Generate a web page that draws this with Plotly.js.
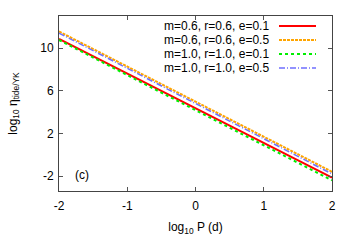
<!DOCTYPE html>
<html><head><meta charset="utf-8">
<script src="https://cdn.plot.ly/plotly-3.0.1.min.js"></script>
<style>html,body{margin:0;padding:0;background:#fff}#c{width:357px;height:250px}</style>
</head><body><div id="c"></div>
<script>
const logP = [-2, 2];
const labels = ["m=0.6, r=0.6, e=0.1","m=0.6, r=0.6, e=0.5","m=1.0, r=1.0, e=0.1","m=1.0, r=1.0, e=0.5"];
const eta_a = [10.85, -2.15];
const eta_b = [11.55, -1.6];
const eta_c = [10.75, -2.4];
const eta_d = [11.4, -1.8];
const xTicks = [-2, -1, 0, 1, 2];
const yTicks = [-2, 2, 6, 10];

const series = [eta_a, eta_b, eta_c, eta_d];
const styles = [
  {color:'#ff0000', dash:'solid', width:2},
  {color:'#ffa500', dash:'3px,1px', width:2},
  {color:'#00ee00', dash:'dot', width:2},
  {color:'#6f6fff', dash:'6px,2px,1px,2px', width:1.5}
];
const traces = series.map((s,i)=>({x:logP, y:s, mode:'lines', name:labels[i], line:styles[i], showlegend:false}));

const font = {family:'Liberation Sans, Arial, sans-serif', size:12, color:'#000'};
const ann = [{xref:'paper', yref:'paper', x:0.05, y:0.09, text:'(c)', showarrow:false, xanchor:'left', yanchor:'middle', font:font}];
const shapes = [];
const rowsY = [26, 40, 54, 68];
const figH = 250, mTop = 16, mBot = 59, ph = figH - mTop - mBot;
labels.forEach((l,i)=>{
  const yp = 1 - (rowsY[i]-mTop)/ph;
  ann.push({xref:'paper', yref:'paper', x:(271-59)/273, y:yp, text:l, showarrow:false, xanchor:'right', yanchor:'middle', font:font});
  shapes.push({type:'line', xref:'paper', yref:'paper', x0:(279-59)/273, x1:(316-59)/273, y0:yp, y1:yp, line:styles[i]});
});

const layout = {
  width:357, height:250,
  margin:{l:59, r:25, t:16, b:59},
  paper_bgcolor:'#fff', plot_bgcolor:'#fff',
  font:font,
  xaxis:{range:[-2,2], tickvals:xTicks, ticktext:xTicks.map(String), ticks:'inside', ticklen:4, tickcolor:'#555',
    showline:true, linecolor:'#444', linewidth:1, mirror:'ticks', showgrid:false, zeroline:false, ticklabelstandoff:4,
    title:{text:'log<sub>10</sub> P (d)', font:font, standoff:10}},
  yaxis:{range:[-3.4, 13], tickvals:yTicks, ticktext:yTicks.map(String), ticks:'inside', ticklen:4, tickcolor:'#555',
    showline:true, linecolor:'#444', linewidth:1, mirror:'ticks', showgrid:false, zeroline:false, ticklabelstandoff:2,
    title:{text:'log<sub>10</sub> η<sub>tide/YK</sub>', font:font, standoff:20}},
  annotations:ann, shapes:shapes, showlegend:false
};
Plotly.newPlot('c', traces, layout, {displayModeBar:false, staticPlot:true});
</script></body></html>
